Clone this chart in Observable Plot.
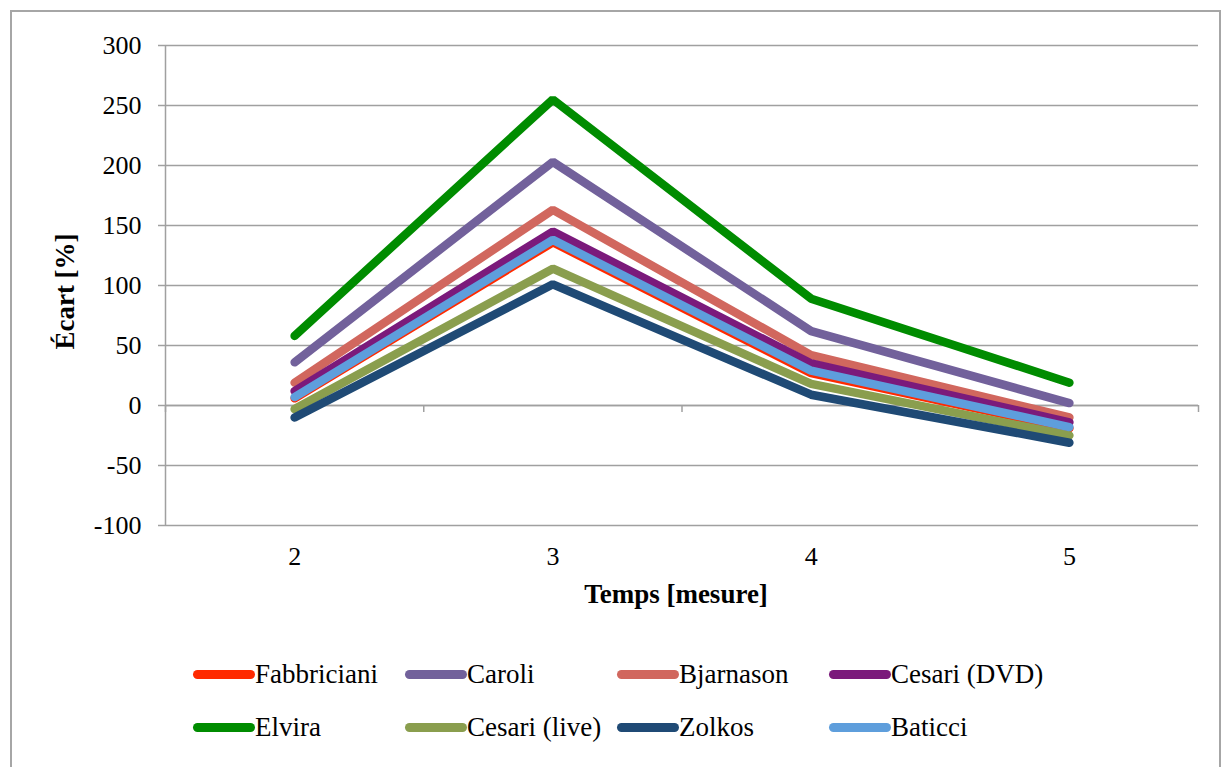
<!DOCTYPE html>
<html>
<head>
<meta charset="utf-8">
<script src="https://cdn.jsdelivr.net/npm/d3@7"></script>
<script src="https://cdn.jsdelivr.net/npm/@observablehq/plot@0.6"></script>
<style>
  html, body { margin: 0; padding: 0; background: #fff; }
  body { width: 1226px; height: 767px; position: relative; overflow: hidden; font-family: "Liberation Serif", serif; }
  #border { position: absolute; left: 10px; top: 10px; width: 1211px; height: 800px; border: 2px solid #a6a6a6; box-sizing: border-box; }
  #chart { position: absolute; left: 0; top: 0; }
  #legend { position: absolute; left: 193px; top: 650px; display: grid; grid-template-columns: repeat(4, 212px); grid-auto-rows: 53px; }
  .item { display: flex; align-items: center; font-size: 27px; color: #000; height: 48px; white-space: nowrap; }
  .sw { width: 62px; height: 9px; border-radius: 5px; margin-right: 0px; flex: none; }
</style>
</head>
<body>
<div id="border"></div>
<div id="chart"></div>
<div id="legend"></div>
<script>
const measures = [2, 3, 4, 5];
const seriesNames = ["Fabbriciani", "Caroli", "Bjarnason", "Cesari (DVD)", "Elvira", "Cesari (live)", "Zolkos", "Baticci"];
const seriesColors = ["#ff2a00", "#72619b", "#d1675e", "#7b1a7b", "#008c00", "#8a9e4e", "#1f4a75", "#5e9edc"];
const fabbriciani = [6, 136, 27, -19];
const caroli = [36, 203, 62, 2];
const bjarnason = [19, 163, 42, -10];
const cesariDVD = [12, 145, 35, -14];
const elvira = [58, 255, 89, 19];
const cesariLive = [-3, 114, 18, -25];
const zolkos = [-10, 101, 9, -31];
const baticci = [7, 138, 29, -18];
const yTicks = [-100, -50, 0, 50, 100, 150, 200, 250, 300];
const xBounds = [1.5, 2.5, 3.5, 4.5, 5.5];
const xTitle = "Temps [mesure]";
const yTitle = "Écart [%]";

const valuesBySeries = [fabbriciani, caroli, bjarnason, cesariDVD, elvira, cesariLive, zolkos, baticci];
const table = [];
seriesNames.forEach((name, i) => {
  measures.forEach((m, j) => table.push({ name, measure: m, value: valuesBySeries[i][j] }));
});

const grey = "#a0a0a0";
const chart = Plot.plot({
  width: 1226,
  height: 620,
  marginLeft: 165,
  marginRight: 28,
  marginTop: 45,
  marginBottom: 95,
  style: { fontFamily: "Liberation Serif, serif", fontSize: "26px", color: "#000", background: "transparent" },
  x: { type: "linear", domain: [1.5, 5.5] },
  y: { domain: [-100, 300] },
  color: { domain: seriesNames, range: seriesColors },
  marks: [
    Plot.gridY(yTicks, { stroke: grey, strokeOpacity: 1, strokeWidth: 1.5 }),
    Plot.ruleX([xBounds[0]], { stroke: grey, strokeWidth: 1.5 }),
    Plot.ruleY(yTicks, { x1: xBounds[0], x2: xBounds[0], insetLeft: -7, stroke: grey, strokeWidth: 1.5 }),
    Plot.ruleY([0], { stroke: grey, strokeWidth: 1.5 }),
    Plot.ruleX(xBounds, { y1: 0, y2: 0, insetBottom: -7, stroke: grey, strokeWidth: 1.5 }),
    Plot.axisY(yTicks, { tickSize: 0, tickPadding: 24, fontSize: 26, label: null, tickFormat: d => String(d) }),
    Plot.axisX(measures, { tickSize: 0, tickPadding: 21, fontSize: 26, label: null, tickFormat: d => String(d) }),
    Plot.line(table, { x: "measure", y: "value", z: "name", stroke: "name", strokeWidth: 8.5, strokeLinecap: "round", strokeLinejoin: "miter" }),
    Plot.text([yTitle], { frameAnchor: "left", textAnchor: "middle", rotate: -90, dx: -100, dy: 6, fontWeight: "bold", fontSize: 27 }),
    Plot.text([xTitle], { frameAnchor: "bottom", textAnchor: "middle", dy: 77, dx: -6, fontWeight: "bold", fontSize: 27 })
  ]
});
document.getElementById("chart").appendChild(chart);

const legend = document.getElementById("legend");
seriesNames.forEach((name, i) => {
  const item = document.createElement("div");
  item.className = "item";
  const sw = document.createElement("span");
  sw.className = "sw";
  sw.style.background = seriesColors[i];
  const label = document.createElement("span");
  label.textContent = name;
  item.appendChild(sw);
  item.appendChild(label);
  legend.appendChild(item);
});
</script>
</body>
</html>
